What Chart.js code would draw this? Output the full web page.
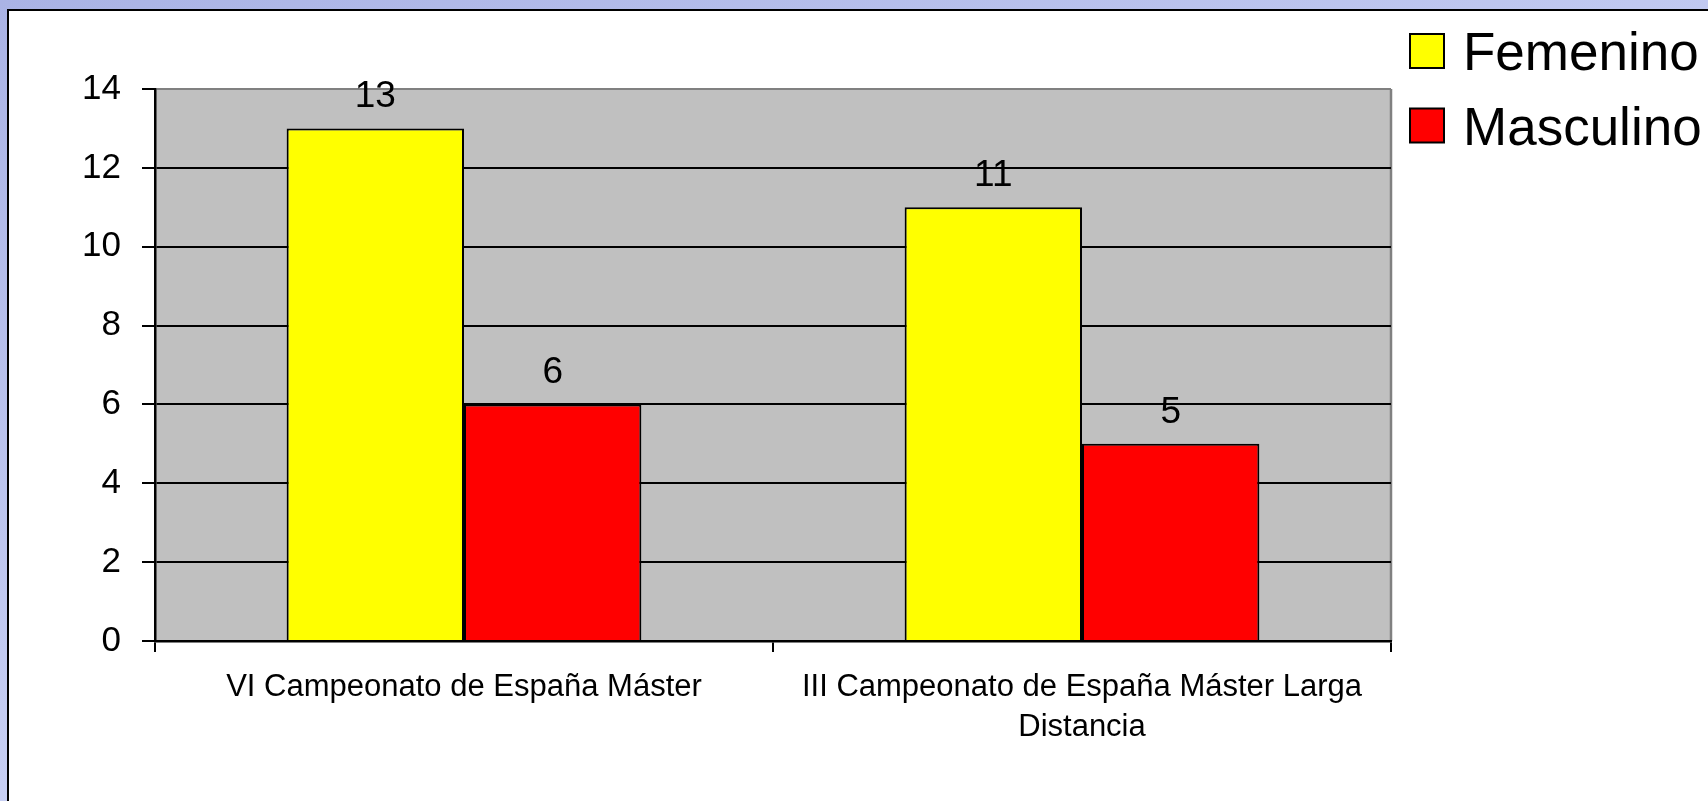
<!DOCTYPE html>
<html>
<head>
<meta charset="utf-8">
<script src="https://cdn.jsdelivr.net/npm/chart.js@4"></script>
<style>
  html, body { margin: 0; padding: 0; }
  body {
    width: 1708px; height: 801px; overflow: hidden; position: relative;
    background: linear-gradient(160deg, #aab3e5 0%, #c4ccf2 50%, #d8def9 100%);
  }
  #panel {
    position: absolute; left: 7px; top: 9px; right: 0; bottom: 0;
    background: #fff; border-left: 2px solid #000; border-top: 2px solid #000;
  }
  #myChart { position: absolute; left: 0; top: 0; }
</style>
</head>
<body>
<div id="panel"></div>
<canvas id="myChart" width="1708" height="801"></canvas>
<script>
const categories = [
    'VI Campeonato de España Máster',
    ['III Campeonato de España Máster Larga', 'Distancia']
];
const femenino = [13, 11];
const masculino = [6, 5];
const yTicks = [0, 2, 4, 6, 8, 10, 12, 14];

const fontFamily = '"Liberation Sans", Arial, sans-serif';

// grey plot background with grey top/right edge
const plotBackground = {
    id: 'plotBackground',
    beforeDraw(chart) {
        const { ctx, chartArea: a } = chart;
        ctx.save();
        ctx.fillStyle = '#c0c0c0';
        ctx.fillRect(a.left, a.top, a.right - a.left, a.bottom - a.top);
        ctx.strokeStyle = '#808080';
        ctx.lineWidth = 2.5;
        ctx.beginPath();
        ctx.moveTo(a.right, a.top);
        ctx.lineTo(a.right, a.bottom);
        ctx.stroke();
        ctx.restore();
    }
};

// value labels above the bars
const barValues = {
    id: 'barValues',
    afterDatasetsDraw(chart) {
        const ctx = chart.ctx;
        ctx.save();
        ctx.fillStyle = '#000';
        ctx.font = '37px ' + fontFamily;
        ctx.textAlign = 'center';
        ctx.textBaseline = 'alphabetic';
        chart.data.datasets.forEach((ds, i) => {
            chart.getDatasetMeta(i).data.forEach((bar, j) => {
                ctx.fillText(String(ds.data[j]), bar.x, bar.y - 21);
            });
        });
        ctx.restore();
    }
};

// legend in the top right corner
const sideLegend = {
    id: 'sideLegend',
    afterDraw(chart) {
        const ctx = chart.ctx;
        ctx.save();
        ctx.font = '53px ' + fontFamily;
        ctx.textAlign = 'left';
        ctx.textBaseline = 'alphabetic';
        chart.data.datasets.forEach((ds, i) => {
            const top = 34 + i * 74.5;
            ctx.fillStyle = ds.backgroundColor;
            ctx.fillRect(1410, top, 34, 34);
            ctx.strokeStyle = '#000';
            ctx.lineWidth = 2;
            ctx.strokeRect(1410, top, 34, 34);
            ctx.fillStyle = '#000';
            ctx.fillText(ds.label, 1463, top + 36);
        });
        ctx.restore();
    }
};

const data = {
    labels: categories,
    datasets: [{
        label: 'Femenino',
        data: femenino,
        backgroundColor: '#ffff00',
        borderColor: '#000',
        borderWidth: 2,
        borderSkipped: 'bottom',
        categoryPercentage: 0.574,
        barPercentage: 1
    }, {
        label: 'Masculino',
        data: masculino,
        backgroundColor: '#ff0000',
        borderColor: '#000',
        borderWidth: 2,
        borderSkipped: 'bottom',
        categoryPercentage: 0.574,
        barPercentage: 1
    }]
};

const config = {
    type: 'bar',
    data: data,
    options: {
        responsive: false,
        animation: false,
        devicePixelRatio: 1,
        layout: {
            padding: { left: 81, top: 89, right: 317, bottom: 0 }
        },
        scales: {
            x: {
                afterFit: (s) => { s.height = 160; },
                grid: {
                    display: true,
                    offset: true,
                    drawOnChartArea: false,
                    color: '#000',
                    lineWidth: 2,
                    tickLength: 11
                },
                border: { display: true, color: '#000', width: 2.5 },
                ticks: {
                    color: '#000',
                    font: { family: fontFamily, size: 31, lineHeight: 1.3 },
                    padding: 15,
                    maxRotation: 0,
                    autoSkip: false
                }
            },
            y: {
                min: 0,
                max: 14,
                afterFit: (s) => { s.width = 74; },
                afterBuildTicks: (s) => { s.ticks = yTicks.map(v => ({ value: v })); },
                grid: {
                    color: (c) => c.tick && c.tick.value === 14 ? '#808080' : '#000',
                    tickColor: '#000',
                    lineWidth: 2,
                    tickLength: 13
                },
                border: { display: true, color: '#000', width: 2.5 },
                ticks: {
                    color: '#000',
                    font: { family: fontFamily, size: 35 },
                    padding: 21
                }
            }
        },
        plugins: {
            legend: { display: false },
            tooltip: { enabled: false }
        }
    },
    plugins: [plotBackground, barValues, sideLegend]
};

const myChart = new Chart(document.getElementById('myChart'), config);
</script>
</body>
</html>
